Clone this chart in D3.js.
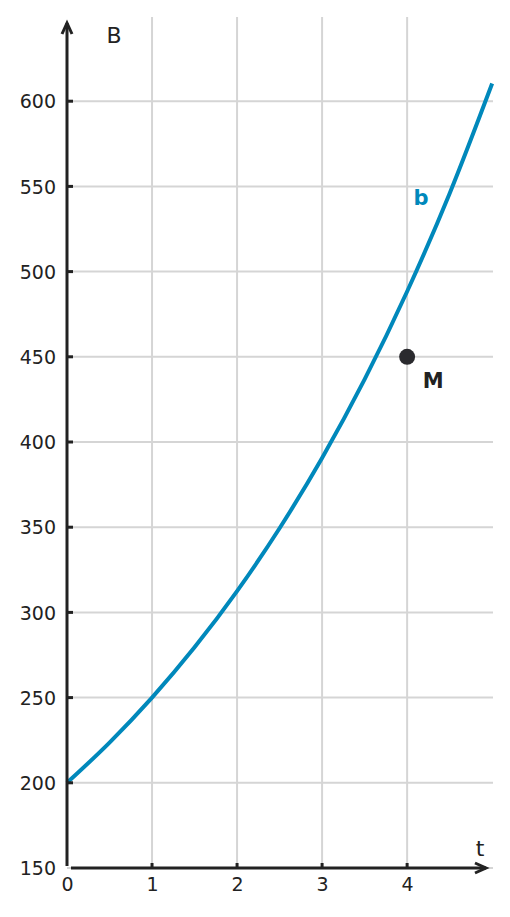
<!DOCTYPE html>
<html>
<head>
<meta charset="utf-8">
<script src="https://cdn.jsdelivr.net/npm/d3@7"></script>
<style>
  body { margin: 0; background: #fff; }
  text { font-family: "DejaVu Sans", sans-serif; fill: #222; }
</style>
</head>
<body>
<div id="chart"></div>
<script>
// values
const tValues = [0, 0.5, 1, 1.5, 2, 2.5, 3, 3.5, 4, 4.5, 5];
const bValues = [200, 223.6, 250, 279.5, 312.5, 349.4, 390.6, 436.7, 488.3, 545.9, 610.4];
const xTicks = [0, 1, 2, 3, 4];
const yTicks = [150, 200, 250, 300, 350, 400, 450, 500, 550, 600];
const pointM = {t: 4, b: 450, label: "M"};
const curveLabel = "b";

const width = 510, height = 917;
const blue = "#0088bb", dark = "#222222", grid = "#d5d5d5";

let x = d3.scaleLinear().domain([0, 5.01]).range([67, 493]);
let y = d3.scaleLinear().domain([150, 650]).range([868, 16]);

let svg = d3.select("#chart")
  .append("svg")
    .attr("width", width)
    .attr("height", height);

// grid
svg.append("g")
  .selectAll("line")
  .data(xTicks.slice(1))
  .enter()
  .append("line")
    .attr("x1", d => x(d)).attr("x2", d => x(d))
    .attr("y1", y(650) + 1).attr("y2", y(150))
    .attr("stroke", grid).attr("stroke-width", 2);

svg.append("g")
  .selectAll("line")
  .data(yTicks)
  .enter()
  .append("line")
    .attr("x1", x(0)).attr("x2", x(5.01))
    .attr("y1", d => y(d)).attr("y2", d => y(d))
    .attr("stroke", grid).attr("stroke-width", 2);

// curve
let line = d3.line()
  .x((d, i) => x(tValues[i]))
  .y(d => y(d))
  .curve(d3.curveMonotoneX);

svg.append("path")
  .datum(bValues)
  .attr("d", line)
  .attr("fill", "none")
  .attr("stroke", blue)
  .attr("stroke-width", 4);

// axes
let axeX = d3.axisBottom(x).tickValues(xTicks).tickFormat(d3.format("d")).tickSize(0).tickPadding(10);
let axeY = d3.axisLeft(y).tickValues(yTicks).tickFormat(d3.format("d")).tickSize(0).tickPadding(11);

let gx = svg.append("g")
  .attr("transform", `translate(0,${y(150)})`)
  .call(axeX);
gx.select(".domain").remove();
gx.selectAll("text").style("font-size", "19px").attr("fill", dark);

let gy = svg.append("g")
  .attr("transform", `translate(${x(0)},0)`)
  .call(axeY);
gy.select(".domain").remove();
gy.selectAll("text").style("font-size", "19px").attr("fill", dark).attr("dy", "0.35em");

// small inward ticks
svg.append("g")
  .selectAll("line")
  .data(xTicks.slice(1))
  .enter()
  .append("line")
    .attr("x1", d => x(d)).attr("x2", d => x(d))
    .attr("y1", y(150)).attr("y2", y(150) - 5)
    .attr("stroke", dark).attr("stroke-width", 3);

svg.append("g")
  .selectAll("line")
  .data(yTicks.slice(1))
  .enter()
  .append("line")
    .attr("x1", x(0)).attr("x2", x(0) + 6)
    .attr("y1", d => y(d)).attr("y2", d => y(d))
    .attr("stroke", dark).attr("stroke-width", 3);

// axis lines with arrows
svg.append("line")
  .attr("x1", x(0)).attr("x2", x(0))
  .attr("y1", y(150) - 2).attr("y2", 23)
  .attr("stroke", dark).attr("stroke-width", 3);
svg.append("path")
  .attr("d", `M${x(0) - 5},34 L${x(0)},23 L${x(0) + 5},34`)
  .attr("fill", "none").attr("stroke", dark).attr("stroke-width", 3);

svg.append("line")
  .attr("x1", x(0) + 4).attr("x2", 486)
  .attr("y1", y(150)).attr("y2", y(150))
  .attr("stroke", dark).attr("stroke-width", 3);
svg.append("path")
  .attr("d", `M475,${y(150) - 5} L486,${y(150)} L475,${y(150) + 5}`)
  .attr("fill", "none").attr("stroke", dark).attr("stroke-width", 3);

// axis names
svg.append("text")
  .attr("x", 114).attr("y", 43)
  .attr("text-anchor", "middle")
  .style("font-size", "22px")
  .text("B");

svg.append("text")
  .attr("x", 480).attr("y", 856)
  .attr("text-anchor", "middle")
  .style("font-size", "22px")
  .text("t");

// point M
svg.append("circle")
  .attr("cx", x(pointM.t)).attr("cy", y(pointM.b))
  .attr("r", 8)
  .attr("fill", "#2a2a2e");

svg.append("text")
  .attr("x", x(pointM.t) + 26).attr("y", y(pointM.b) + 31)
  .attr("text-anchor", "middle")
  .style("font-size", "21px")
  .style("font-weight", "bold")
  .text(pointM.label);

svg.append("text")
  .attr("x", 421).attr("y", 205)
  .attr("text-anchor", "middle")
  .style("font-size", "21px")
  .style("font-weight", "bold")
  .style("fill", blue)
  .text(curveLabel);
</script>
</body>
</html>
